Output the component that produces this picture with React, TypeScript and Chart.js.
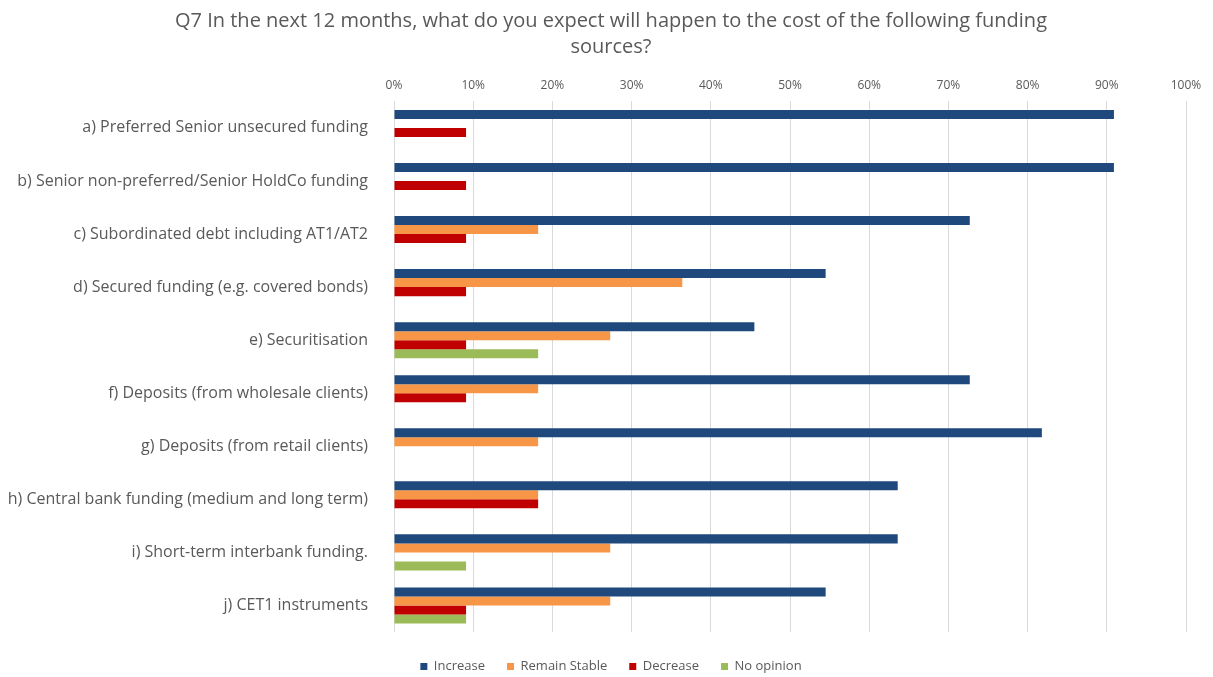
import React, { useEffect, useRef } from "react";
import { Chart, registerables } from "chart.js";

Chart.register(...registerables);

const categories = [
  "a) Preferred Senior unsecured funding",
  "b) Senior non-preferred/Senior HoldCo funding",
  "c) Subordinated debt including AT1/AT2",
  "d) Secured funding (e.g. covered bonds)",
  "e) Securitisation",
  "f) Deposits (from wholesale clients)",
  "g) Deposits (from retail clients)",
  "h) Central bank funding (medium and long term)",
  "i) Short-term interbank funding.",
  "j) CET1 instruments",
];

const increase = [0.909, 0.909, 0.727, 0.545, 0.455, 0.727, 0.818, 0.636, 0.636, 0.545];
const remainStable = [0, 0, 0.182, 0.364, 0.273, 0.182, 0.182, 0.182, 0.273, 0.273];
const decrease = [0.091, 0.091, 0.091, 0.091, 0.091, 0.091, 0, 0.182, 0, 0.091];
const noOpinion = [0, 0, 0, 0, 0.182, 0, 0, 0, 0.091, 0.091];

const seriesNames = ["Increase", "Remain Stable", "Decrease", "No opinion"];
const seriesColors = ["#1F497D", "#F79646", "#C00000", "#9BBB59"];

const titleLines = [
  "Q7 In the next 12 months, what do you expect will happen to the cost of the following funding",
  "sources?",
];

// lets long category labels extend into the left padding instead of being clipped
const unclipLabels = {
  id: "unclipLabels",
  beforeDraw(chart: any) {
    if (chart.scales.y) chart.scales.y.left = 0;
  },
};

export default function App() {
  const ref = useRef<HTMLCanvasElement | null>(null);
  useEffect(() => {
    if (!ref.current) return;
    const data = [increase, remainStable, decrease, noOpinion];
    const chart = new Chart(ref.current, {
      type: "bar",
      data: {
        labels: categories,
        datasets: data.map((d, i) => ({
          label: seriesNames[i],
          data: d,
          backgroundColor: seriesColors[i],
          borderWidth: 0,
          barPercentage: 1,
          categoryPercentage: 0.68,
        })),
      },
      plugins: [unclipLabels],
      options: {
        indexAxis: "y",
        animation: false,
        responsive: true,
        maintainAspectRatio: false,
        layout: { padding: { left: 36, right: 27, top: 2, bottom: 0 } },
        plugins: {
          title: {
            display: true,
            text: titleLines,
            color: "#595959",
            font: { family: "Open Sans", size: 20, weight: "normal", lineHeight: 1.3 },
            padding: { top: 6, bottom: 9 },
          },
          legend: {
            position: "bottom",
            labels: {
              boxWidth: 7,
              boxHeight: 7,
              color: "#595959",
              font: { family: "Open Sans", size: 13 },
              padding: 22,
            },
          },
          tooltip: { enabled: false },
        },
        scales: {
          x: {
            position: "top",
            min: 0,
            max: 1,
            ticks: {
              stepSize: 0.1,
              color: "#595959",
              font: { family: "Open Sans", size: 12 },
              callback: (v: any) => Math.round(Number(v) * 100) + "%",
              padding: 9,
            },
            grid: { color: "#D9D9D9", lineWidth: 1, drawTicks: false },
            border: { display: false },
          },
          spacer: {
            type: "linear",
            axis: "x",
            position: "bottom",
            display: true,
            ticks: { display: false },
            grid: { display: false },
            border: { display: false },
            afterFit: (scale: any) => {
              scale.height = 6;
            },
          },
          y: {
            ticks: {
              color: "#595959",
              font: { family: "Open Sans", size: 16 },
              padding: 18,
            },
            grid: { display: false },
            border: { display: false },
            afterFit: (scale: any) => {
              scale.width = 358;
            },
          },
        },
      },
    });
    return () => chart.destroy();
  }, []);
  return (
    <div style={{ position: "fixed", left: 0, top: 0, width: 1213, height: 683, background: "#fff" }}>
      <canvas ref={ref} />
    </div>
  );
}
